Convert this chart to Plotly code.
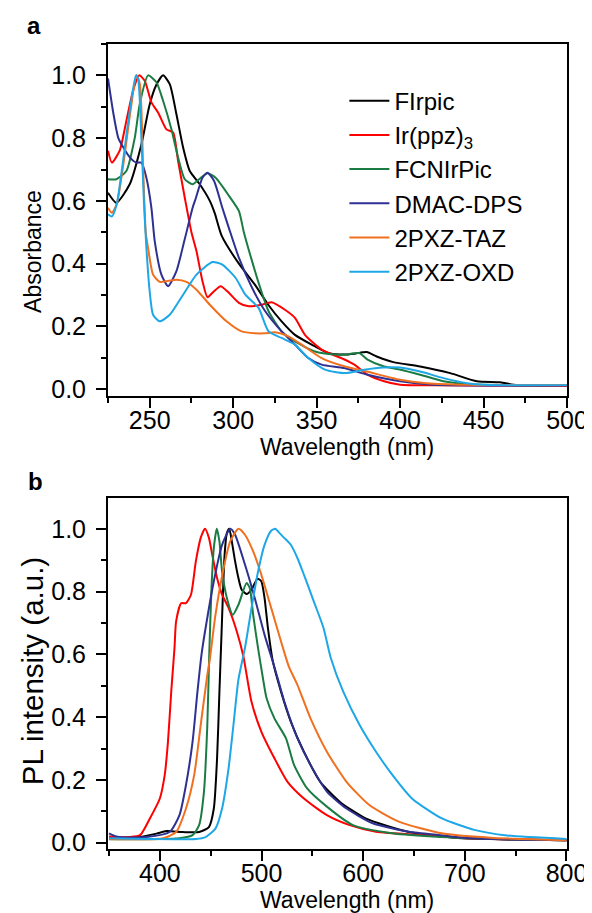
import plotly.graph_objects as go

# ---------------- Absorbance data (panel a) ----------------
abs_firpic_x = [225, 230, 238, 245, 250, 254, 258, 262, 266, 270, 274, 280, 286, 289, 293, 303, 313, 321, 329, 337, 347, 357, 367, 373, 380, 386, 396, 412, 430, 446, 460, 468, 480, 500]
abs_firpic_y = [0.626, 0.594, 0.653, 0.78, 0.908, 0.97, 1.0, 0.972, 0.876, 0.77, 0.695, 0.653, 0.60, 0.56, 0.49, 0.403, 0.333, 0.269, 0.216, 0.173, 0.142, 0.115, 0.11, 0.113, 0.118, 0.104, 0.086, 0.072, 0.051, 0.025, 0.022, 0.014, 0.012, 0.012]

abs_irppz_x = [225, 227.3, 232, 236, 240, 243.7, 247, 251, 255, 260, 264, 267, 271, 275, 278, 281.6, 284.6, 288.5, 292.5, 297.4, 303.4, 309.3, 317, 323, 331, 337, 343, 353, 366, 372.6, 380.5, 390.4, 400, 420, 500]
abs_irppz_y = [0.76, 0.722, 0.76, 0.855, 0.951, 1.0, 0.983, 0.914, 0.882, 0.828, 0.818, 0.727, 0.61, 0.50, 0.44, 0.344, 0.293, 0.312, 0.328, 0.307, 0.275, 0.264, 0.269, 0.277, 0.253, 0.227, 0.173, 0.126, 0.096, 0.078, 0.046, 0.025, 0.014, 0.012, 0.01]

abs_fcnirpic_x = [225, 230, 236, 241, 244, 249, 254, 258, 263, 267, 271, 275.7, 279.6, 284.6, 289.5, 297.5, 303.4, 306.4, 311.3, 316.2, 321.2, 329, 337, 349, 361, 367, 375.5, 380.5, 390.4, 400.3, 412, 426, 440, 460, 500]
abs_fcnirpic_y = [0.669, 0.669, 0.695, 0.80, 0.908, 1.0, 0.978, 0.919, 0.828, 0.738, 0.669, 0.653, 0.669, 0.688, 0.674, 0.616, 0.568, 0.50, 0.408, 0.323, 0.248, 0.184, 0.152, 0.12, 0.11, 0.11, 0.115, 0.094, 0.072, 0.062, 0.046, 0.025, 0.016, 0.013, 0.013]

abs_dmac_x = [225, 228.3, 231.2, 234.2, 238.2, 242, 245, 248, 251, 253, 257, 261, 266, 270.7, 275.7, 277.7, 281.6, 284.6, 288.5, 293.5, 297.4, 303.4, 311.3, 319.2, 329, 337, 345, 353, 366.6, 380.5, 400, 420, 500]
abs_dmac_y = [0.99, 0.876, 0.80, 0.77, 0.738, 0.722, 0.722, 0.674, 0.578, 0.472, 0.365, 0.328, 0.376, 0.472, 0.578, 0.61, 0.674, 0.69, 0.664, 0.578, 0.514, 0.419, 0.323, 0.248, 0.184, 0.142, 0.099, 0.078, 0.067, 0.046, 0.025, 0.014, 0.012]

abs_taz_x = [225, 227.3, 230.2, 234.2, 238.2, 242.1, 244.1, 246.1, 247.6, 249, 252, 256, 261, 266, 272, 278, 286, 296, 305, 313, 319, 325, 333, 341, 353, 367, 380, 400, 416, 440, 500]
abs_taz_y = [0.578, 0.562, 0.589, 0.717, 0.876, 1.0, 0.972, 0.695, 0.50, 0.45, 0.365, 0.342, 0.345, 0.349, 0.342, 0.317, 0.269, 0.216, 0.184, 0.178, 0.178, 0.181, 0.168, 0.142, 0.099, 0.072, 0.056, 0.03, 0.019, 0.014, 0.013]

abs_oxd_x = [225, 227.3, 230.2, 233.2, 237.2, 241.7, 243, 245, 246.5, 248, 250, 252, 256, 262, 270, 278, 287.6, 293.5, 301.4, 307.3, 315.2, 321.2, 329, 337, 345, 355, 367, 378.5, 390, 400, 412, 426, 440, 450, 500]
abs_oxd_y = [0.557, 0.55, 0.589, 0.695, 0.855, 1.0, 0.99, 0.80, 0.60, 0.45, 0.31, 0.237, 0.216, 0.237, 0.301, 0.365, 0.405, 0.397, 0.355, 0.301, 0.259, 0.184, 0.163, 0.142, 0.099, 0.062, 0.051, 0.062, 0.069, 0.069, 0.056, 0.035, 0.019, 0.014, 0.012]

# ---------------- PL data (panel b) ----------------
pl_firpic_x = [350, 380, 396.7, 406.4, 422.5, 438.6, 448.3, 453.1, 456.3, 458.6, 460.5, 463.7, 466, 468.3, 470.8, 474, 477.3, 480.5, 485.3, 490.2, 496, 499.8, 503, 506.3, 511, 519.2, 528.8, 541.7, 557.8, 577.2, 602.9, 644, 690, 750, 800]
pl_firpic_y = [0.014, 0.018, 0.029, 0.037, 0.034, 0.034, 0.05, 0.109, 0.269, 0.481, 0.65, 0.918, 0.987, 1.0, 0.96, 0.897, 0.843, 0.806, 0.792, 0.806, 0.841, 0.833, 0.779, 0.684, 0.58, 0.481, 0.386, 0.29, 0.194, 0.13, 0.077, 0.035, 0.016, 0.01, 0.008]

pl_irppz_x = [350, 360, 370, 380.6, 390.3, 400, 404.8, 408, 411.2, 414.4, 416, 420.9, 425.7, 430.6, 435.4, 440.2, 444.4, 448.3, 451.5, 456.3, 461.2, 467.6, 475.7, 482.1, 490.1, 499.8, 512.7, 525.6, 541.7, 564.3, 586.8, 612.6, 660.9, 693, 750, 800]
pl_irppz_y = [0.02, 0.018, 0.018, 0.024, 0.078, 0.141, 0.216, 0.322, 0.481, 0.62, 0.705, 0.763, 0.763, 0.79, 0.896, 0.971, 1.0, 0.971, 0.918, 0.843, 0.79, 0.748, 0.673, 0.595, 0.45, 0.354, 0.269, 0.194, 0.141, 0.088, 0.056, 0.035, 0.024, 0.016, 0.01, 0.008]

pl_fcnirpic_x = [350, 419.3, 432.2, 438.6, 443.4, 446.7, 448.5, 450.8, 453.1, 456, 458.6, 461.2, 466, 471.8, 477.3, 485.3, 488.5, 491.8, 496.6, 501.4, 505, 512.7, 524, 532, 544.9, 564.3, 590, 628.7, 677, 750, 800]
pl_fcnirpic_y = [0.011, 0.014, 0.024, 0.056, 0.163, 0.375, 0.59, 0.811, 0.939, 1.0, 0.96, 0.864, 0.779, 0.726, 0.758, 0.827, 0.811, 0.726, 0.62, 0.524, 0.46, 0.396, 0.333, 0.248, 0.173, 0.115, 0.056, 0.03, 0.018, 0.01, 0.008]

pl_dmac_x = [350, 353, 360, 387, 409.6, 419.3, 425.7, 432.2, 437, 441, 445, 453.1, 461.2, 469.2, 474, 483.7, 493.4, 503, 512.7, 522.4, 535.3, 548.2, 564.3, 583.6, 609.4, 644.8, 677, 700, 750, 800]
pl_dmac_y = [0.03, 0.025, 0.018, 0.018, 0.034, 0.088, 0.184, 0.322, 0.481, 0.60, 0.684, 0.833, 0.949, 1.0, 0.981, 0.886, 0.779, 0.662, 0.56, 0.45, 0.333, 0.248, 0.163, 0.109, 0.062, 0.035, 0.024, 0.016, 0.01, 0.008]

pl_taz_x = [350, 403.2, 416, 425.7, 433.8, 440.2, 446.7, 449, 454.7, 462.8, 469.2, 477.3, 483.7, 491.8, 499.8, 509.5, 519.2, 527, 535.3, 548.2, 564.3, 583.6, 606.1, 635.1, 677, 725.4, 800]
pl_taz_y = [0.012, 0.014, 0.034, 0.109, 0.216, 0.375, 0.535, 0.58, 0.726, 0.875, 0.96, 1.0, 0.981, 0.928, 0.854, 0.748, 0.641, 0.56, 0.503, 0.396, 0.29, 0.194, 0.12, 0.067, 0.03, 0.016, 0.008]

pl_oxd_x = [350, 435.4, 445, 454.7, 461.2, 467.6, 472.4, 477.3, 483.7, 490.2, 496.6, 503, 509.5, 513.7, 517.5, 522.4, 528.8, 535.3, 541.7, 551.4, 561, 568, 580.4, 596.5, 612.6, 628.7, 648, 677, 709.3, 741.5, 800]
pl_oxd_y = [0.014, 0.012, 0.018, 0.045, 0.109, 0.237, 0.375, 0.52, 0.62, 0.748, 0.864, 0.949, 0.994, 1.0, 0.987, 0.971, 0.949, 0.907, 0.854, 0.769, 0.684, 0.59, 0.481, 0.375, 0.29, 0.216, 0.141, 0.078, 0.041, 0.023, 0.012]

series_names = ["FIrpic", "Ir(ppz)<sub>3</sub>", "FCNIrPic", "DMAC-DPS", "2PXZ-TAZ", "2PXZ-OXD"]
series_colors = ["#000000", "#ff0000", "#1b7c43", "#2e3192", "#f07020", "#1ea7e6"]

abs_data = [(abs_firpic_x, abs_firpic_y), (abs_irppz_x, abs_irppz_y), (abs_fcnirpic_x, abs_fcnirpic_y),
            (abs_dmac_x, abs_dmac_y), (abs_taz_x, abs_taz_y), (abs_oxd_x, abs_oxd_y)]
pl_data = [(pl_firpic_x, pl_firpic_y), (pl_irppz_x, pl_irppz_y), (pl_fcnirpic_x, pl_fcnirpic_y),
           (pl_dmac_x, pl_dmac_y), (pl_taz_x, pl_taz_y), (pl_oxd_x, pl_oxd_y)]

FONT = "Liberation Sans, Arial, Helvetica, sans-serif"

fig = go.Figure()
for name, color, (x, y) in zip(series_names, series_colors, abs_data):
    fig.add_trace(go.Scatter(x=x, y=y, mode="lines", name=name, xaxis="x", yaxis="y",
                             line=dict(color=color, width=2, shape="spline", smoothing=0.6)))
for name, color, (x, y) in zip(series_names, series_colors, pl_data):
    fig.add_trace(go.Scatter(x=x, y=y, mode="lines", name=name, xaxis="x2", yaxis="y2", showlegend=False,
                             line=dict(color=color, width=2, shape="spline", smoothing=0.6)))

axis_common = dict(showline=True, linecolor="black", linewidth=2, mirror=True, ticks="outside",
                   ticklen=10, tickwidth=2, tickcolor="black", showgrid=False, zeroline=False,
                   tickfont=dict(family=FONT, size=25, color="black"))
minor_common = dict(ticks="outside", ticklen=5, tickwidth=2, tickcolor="black")

fig.update_layout(
    width=592, height=913,
    margin=dict(l=100, r=26, t=36, b=72),
    paper_bgcolor="white", plot_bgcolor="white",
    font=dict(family=FONT, color="black"),
    xaxis=dict(domain=[0, 1], anchor="y", range=[225, 500], tick0=250, dtick=50, ticklabelstandoff=-9,
               minor=dict(dtick=25, tick0=225, **minor_common), **axis_common),
    yaxis=dict(domain=[0.5627, 1], anchor="x", range=[-0.022, 1.1], tick0=0, dtick=0.2, tickformat=".1f",
               ticklabelstandoff=5, minor=dict(dtick=0.1, tick0=0, **minor_common), **axis_common),
    xaxis2=dict(domain=[0, 1], anchor="y2", range=[349, 800.5], tick0=400, dtick=100, ticklabelstandoff=-9,
                minor=dict(dtick=50, tick0=350, **minor_common), **axis_common),
    yaxis2=dict(domain=[0, 0.436], anchor="x2", range=[-0.02, 1.098], tick0=0, dtick=0.2, tickformat=".1f",
                ticklabelstandoff=5, minor=dict(dtick=0.1, tick0=0, **minor_common), **axis_common),
    legend=dict(x=0.515, y=0.957, xanchor="left", yanchor="top", bgcolor="rgba(0,0,0,0)",
                font=dict(family=FONT, size=24, color="black"), itemwidth=40, tracegroupgap=0),
    showlegend=True,
)

ann_font = dict(family=FONT, size=23, color="black")
fig.add_annotation(text="Wavelength (nm)", xref="paper", yref="paper", x=0.5215, y=0.4994,
                   showarrow=False, font=ann_font, xanchor="center", yanchor="middle")
fig.add_annotation(text="Wavelength (nm)", xref="paper", yref="paper", x=0.5215, y=-0.0634,
                   showarrow=False, font=ann_font, xanchor="center", yanchor="middle")
fig.add_annotation(text="Absorbance", xref="paper", yref="paper", x=-0.165, y=0.742, textangle=-90,
                   showarrow=False, font=dict(family=FONT, size=23, color="black"), xanchor="center", yanchor="middle")
fig.add_annotation(text="PL intensity (a.u.)", xref="paper", yref="paper", x=-0.165, y=0.2211, textangle=-90,
                   showarrow=False, font=dict(family=FONT, size=29.5, color="black"), xanchor="center", yanchor="middle")
fig.add_annotation(text="<b>a</b>", xref="paper", yref="paper", x=-0.161, y=1.0224,
                   showarrow=False, font=dict(family=FONT, size=24, color="black"), xanchor="center", yanchor="middle")
fig.add_annotation(text="<b>b</b>", xref="paper", yref="paper", x=-0.158, y=0.456,
                   showarrow=False, font=dict(family=FONT, size=24, color="black"), xanchor="center", yanchor="middle")

fig.write_html("out.html")
